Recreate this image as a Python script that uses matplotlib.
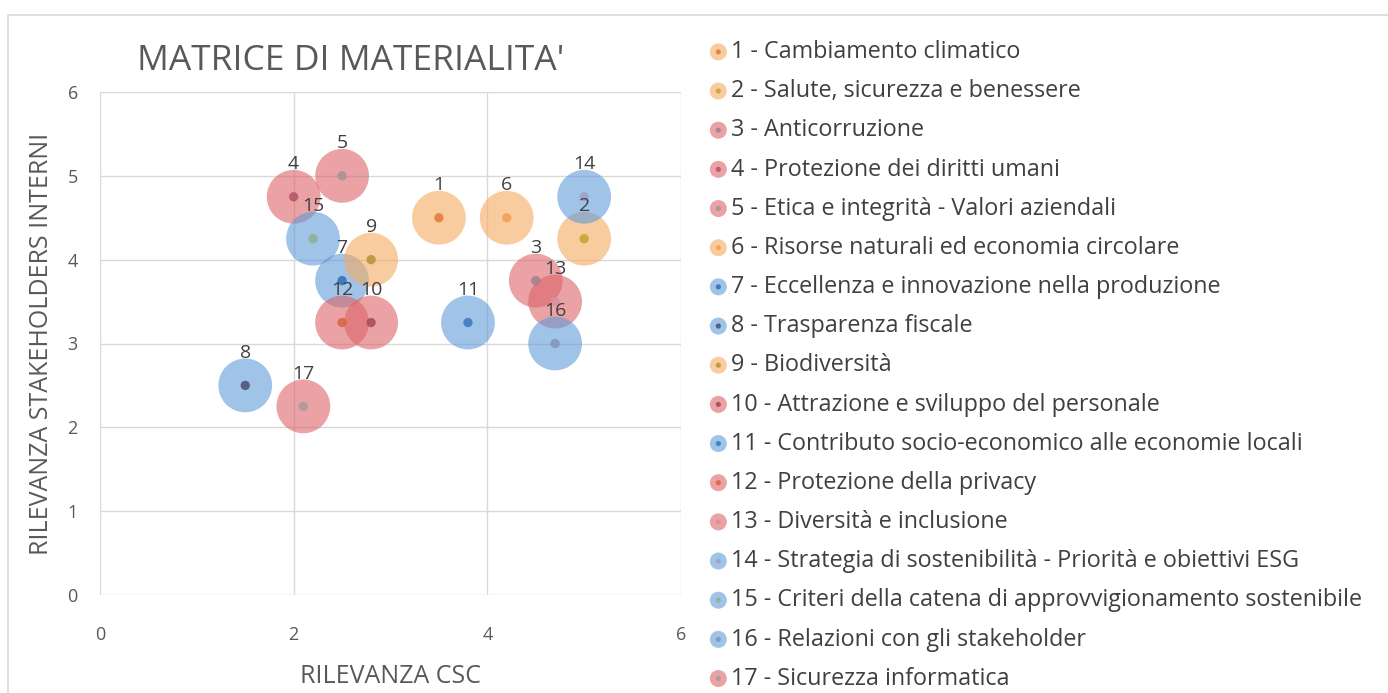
import matplotlib
matplotlib.use("Agg")
import matplotlib.pyplot as plt
from matplotlib.patches import Rectangle
from matplotlib.legend_handler import HandlerTuple

plt.rcParams['font.family'] = ['Open Sans', 'DejaVu Sans']

# temi materiali
labels = [
    "1 - Cambiamento climatico",
    "2 - Salute, sicurezza e benessere",
    "3 - Anticorruzione",
    "4 - Protezione dei diritti umani",
    "5 - Etica e integrità - Valori aziendali",
    "6 - Risorse naturali ed economia circolare",
    "7 - Eccellenza e innovazione nella produzione",
    "8 - Trasparenza fiscale",
    "9 - Biodiversità",
    "10 - Attrazione e sviluppo del personale",
    "11 - Contributo socio-economico alle economie locali",
    "12 - Protezione della privacy",
    "13 - Diversità e inclusione",
    "14 - Strategia di sostenibilità - Priorità e obiettivi ESG",
    "15 - Criteri della catena di approvvigionamento sostenibile",
    "16 - Relazioni con gli stakeholder",
    "17 - Sicurezza informatica",
]
rilevanza_csc = [3.5, 5.0, 4.5, 2.0, 2.5, 4.2, 2.5, 1.5, 2.8, 2.8, 3.8, 2.5, 4.7, 5.0, 2.2, 4.7, 2.1]
rilevanza_stk = [4.5, 4.25, 3.75, 4.75, 5.0, 4.5, 3.75, 2.5, 4.0, 3.25, 3.25, 3.25, 3.5, 4.75, 4.25, 3.0, 2.25]
gruppo = ['o', 'o', 'p', 'p', 'p', 'o', 'b', 'b', 'o', 'p', 'b', 'p', 'p', 'b', 'b', 'b', 'p']

bubble_col = {'o': '#F5AA61', 'p': '#DC6469', 'b': '#619BD9'}
dot_col = ['#E07B39', '#C9A227', '#A08090', '#B0556A', '#A0949A', '#F0A050',
           '#2F6EB5', '#4A4E72', '#B8913A', '#A34A5A', '#3779C0', '#D8643A',
           '#D890A0', '#A0A0C8', '#8FB08F', '#7F96B8', '#A89AA0']

W, H = 1388, 693
fig = plt.figure(figsize=(W / 100, H / 100), dpi=100)
fig.patches.append(Rectangle((8 / W, -0.01), 1.0, 1 - 15 / H + 0.01, transform=fig.transFigure,
                             facecolor='none', edgecolor='#D9D9D9', lw=1.2, zorder=-1))

ax = fig.add_axes([100 / W, 1 - 595 / H, 581 / W, 503 / H])
ax.set_xlim(0, 6)
ax.set_ylim(0, 6)
ax.set_xticks([0, 2, 4, 6])
ax.set_yticks(range(7))
ax.grid(True, color='#D9D9D9', lw=1)
ax.set_axisbelow(True)
for s in ax.spines.values():
    s.set_visible(False)
ax.tick_params(length=0, colors='#595959', labelsize=13)
ax.tick_params(axis='x', pad=22)
ax.tick_params(axis='y', pad=16)

handles = []
for i in range(len(labels)):
    c = bubble_col[gruppo[i]]
    ax.scatter(rilevanza_csc[i], rilevanza_stk[i], s=1500, color=c,
               alpha=0.6, edgecolors='none', zorder=2 + i * 0.01)
    ax.scatter(rilevanza_csc[i], rilevanza_stk[i], s=45, color=dot_col[i],
               alpha=0.85, edgecolors='none', zorder=3)
    ax.annotate(str(i + 1), (rilevanza_csc[i], rilevanza_stk[i]), xytext=(0, 17),
                textcoords='offset points', ha='center', va='bottom',
                fontsize=14, color='#404040', zorder=4)
    # piccoli marker per la legenda
    big = ax.scatter([], [], s=150, color=c, alpha=0.6, edgecolors='none')
    small = ax.scatter([], [], s=14, color=dot_col[i], alpha=0.85, edgecolors='none')
    handles.append((big, small))

ax.set_xlabel("RILEVANZA CSC", fontsize=18, color='#595959', labelpad=15)
ax.set_ylabel("RILEVANZA STAKEHOLDERS INTERNI", fontsize=18, color='#595959', labelpad=10)
fig.text(137 / W, 1 - 61 / H, "MATRICE DI MATERIALITA'", fontsize=25.5, color='#595959',
         ha='left', va='center')

leg = fig.legend(handles, labels, loc='upper left', bbox_to_anchor=(709 / W, 1 - 40 / H),
                 handler_map={tuple: HandlerTuple(ndivide=1)}, frameon=False,
                 fontsize=16.8, labelcolor='#404040', labelspacing=0.65,
                 handletextpad=0.15, handlelength=0.8, scatterpoints=1,
                 borderpad=0, borderaxespad=0)

fig.savefig("out.png", dpi=100)
